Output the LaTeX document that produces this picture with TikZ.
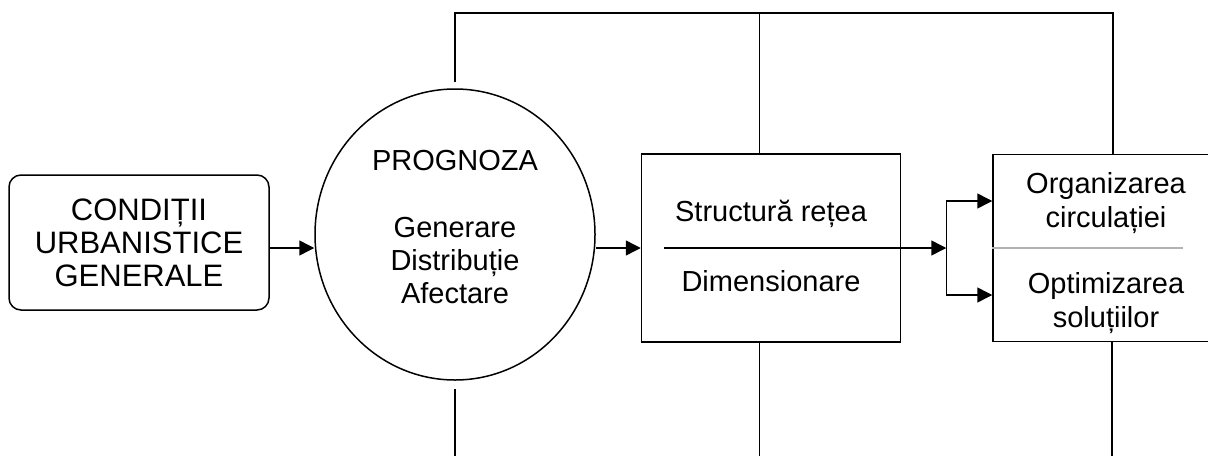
\documentclass[tikz,border=0pt]{standalone}
\usepackage{fontspec}
\setmainfont{Liberation Sans}
\usetikzlibrary{arrows.meta,positioning,shapes.geometric}

\begin{document}
\begin{tikzpicture}[x=0.5pt,y=-0.5pt,>={Triangle[length=7.5pt,width=7.5pt]},
  line width=0.75pt,node distance=158pt,
  every node/.style={font=\fontsize{14.5}{16.5}\selectfont},
  lab node/.style={align=center,font=\fontsize{14.5}{16.75}\selectfont},
  rec node/.style={rectangle,rounded corners=6pt,draw,align=center,minimum width=130pt,minimum height=67.5pt,
    font=\fontsize{15.5}{16.5}\selectfont},
  main node/.style={ellipse,draw,minimum width=140pt,minimum height=145.5pt},
  box node/.style={rectangle,draw,minimum width=129.5pt,minimum height=94pt},
  res node/.style={rectangle,draw,minimum width=113pt,minimum height=93.5pt},
  txt node/.style={align=center},
  back line/.style={line width=0.9pt}]

  \path[use as bounding box,fill=white] (0,0) rectangle (1208,455);

  \node[rec node] (1) at (139,242.5) {CONDIȚII\\URBANISTICE\\GENERALE};
  \node[main node] (2) [right of=1,yshift=4pt] {};
  \node[txt node] (2t) at ([yshift=3.75pt]2.center) {PROGNOZA\\[17pt]Generare\\Distribuție\\Afectare};
  \node[box node] (3) [right of=2,yshift=-6.75pt] {};
  \node[lab node] (3a) at ([yshift=17pt]3.center) {Structură rețea};
  \node[lab node] (3b) at ([yshift=-16.5pt]3.center) {Dimensionare};
  \node[res node] (4) [right of=3,xshift=9.5pt] {};
  \node[lab node] (4a) at ([yshift=22.5pt]4.center) {Organizarea\\circulației};
  \node[lab node] (4b) at ([yshift=-27.5pt]4.center) {Optimizarea\\soluțiilor};

  \coordinate (j) at ([xshift=-23pt]4.west |- 3.center);
  \coordinate (top) at (0,13);
  \coordinate (bot) at (0,460);

  \path[->,every edge/.style={draw}]
    (1.east |- 3.center) edge (2.west |- 3.center)
    (2.east |- 3.center) edge (3.west)
    ([xshift=11.5pt]3.west) edge (j);
  \draw[->] (j) |- ([yshift=23.5pt]4.west);
  \draw[->] (j) |- ([yshift=-23.5pt]4.west);
  \draw[gray!60,line width=0.6pt] (4.west) -- ([xshift=-18.5pt]4.east);

  % feedback lines
  \draw[back line] ([yshift=3pt]2.north) -- (2.north |- top) -| ([xshift=3.5pt]4.north);
  \draw[back line] ([xshift=-5.75pt]3.north) -- ([xshift=-5.75pt]3.north |- top);
  \draw[back line] ([yshift=-4pt]2.south) -- (2.south |- bot);
  \draw[back line] ([xshift=-5.75pt]3.south) -- ([xshift=-5.75pt]3.south |- bot);
  \draw[back line] ([xshift=3pt]4.south) -- ([xshift=3pt]4.south |- bot);

\end{tikzpicture}
\end{document}
